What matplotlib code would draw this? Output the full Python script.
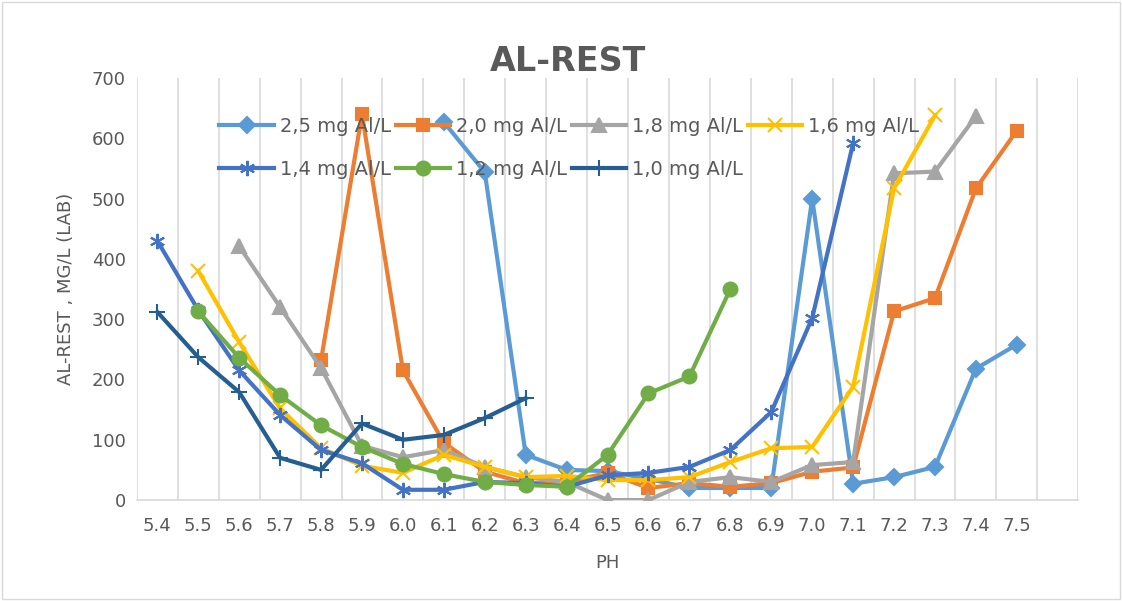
import numpy as np
import matplotlib
matplotlib.use("Agg")
import matplotlib.pyplot as plt

nan = np.nan

# pH categories (one extra empty slot at the end, like the source chart)
ph_labels = ["5.4", "5.5", "5.6", "5.7", "5.8", "5.9", "6.0", "6.1", "6.2", "6.3", "6.4",
             "6.5", "6.6", "6.7", "6.8", "6.9", "7.0", "7.1", "7.2", "7.3", "7.4", "7.5"]

al_25 = [nan, nan, nan, nan, nan, nan, nan, 627, 544, 75, 50, 48, 35, 20, 20, 20, 500, 27, 38, 55, 218, 258]
al_20 = [nan, nan, nan, nan, 232, 640, 215, 95, 47, 28, 30, 45, 20, 28, 22, 28, 47, 54, 313, 335, 517, 613]
al_18 = [nan, nan, 421, 320, 219, 90, 71, 83, 55, 38, 30, 0, 0, 30, 38, 30, 58, 63, 542, 545, 637, nan]
al_16 = [nan, 380, 262, 152, 86, 57, 45, 75, 55, 38, 40, 33, 33, 38, 63, 86, 88, 188, 517, 638, nan, nan]
al_14 = [430, 315, 215, 141, 83, 61, 17, 17, 30, 28, 22, 41, 45, 55, 83, 146, 302, 592, nan, nan, nan, nan]
al_12 = [nan, 313, 236, 174, 124, 88, 60, 43, 30, 25, 22, 75, 177, 205, 350, nan, nan, nan, nan, nan, nan, nan]
al_10 = [312, 237, 179, 70, 50, 127, 100, 108, 136, 169, nan, nan, nan, nan, nan, nan, nan, nan, nan, nan, nan, nan]

series = [
    ("2,5 mg Al/L", al_25, "#5B9BD5", "D", 8),
    ("2,0 mg Al/L", al_20, "#ED7D31", "s", 9),
    ("1,8 mg Al/L", al_18, "#A5A5A5", "^", 10),
    ("1,6 mg Al/L", al_16, "#FFC000", "x", 10),
    ("1,4 mg Al/L", al_14, "#4472C4", (6, 2, 0), 11),
    ("1,2 mg Al/L", al_12, "#70AD47", "o", 10),
    ("1,0 mg Al/L", al_10, "#255E91", "+", 11),
]

text_color = "#595959"

fig = plt.figure(figsize=(11.22, 6.01), dpi=100)
ax = fig.add_axes([0.122, 0.168, 0.839, 0.702])

x = np.arange(len(ph_labels))
handles = []
for label, vals, color, marker, ms in series:
    h, = ax.plot(x, vals, color=color, lw=3, marker=marker, markersize=ms,
                 markeredgewidth=1.5, markeredgecolor=color, markerfacecolor=color,
                 label=label, zorder=3)
    handles.append(h)

n_slots = len(ph_labels) + 1
ax.set_xlim(-0.5, n_slots - 0.5)
ax.set_ylim(0, 700)
ax.set_yticks(range(0, 701, 100))
ax.set_xticks(x)
ax.set_xticklabels(ph_labels)
for k in range(n_slots + 1):
    ax.axvline(k - 0.5, color="#D9D9D9", lw=1.2, zorder=1)

for side in ["top", "right", "left"]:
    ax.spines[side].set_visible(False)
ax.spines["bottom"].set_color("#D9D9D9")
ax.spines["bottom"].set_linewidth(1.2)
ax.tick_params(axis="both", length=0, colors=text_color, labelsize=13)
ax.tick_params(axis="x", pad=12)
ax.tick_params(axis="y", pad=8)

ax.set_xlabel("PH", fontsize=13, color=text_color, labelpad=14)
ax.set_ylabel("AL-REST , MG/L (LAB)", fontsize=13, color=text_color, labelpad=12)
fig.text(0.506, 0.897, "AL-REST", ha="center", va="center", fontsize=24,
         fontweight="bold", color=text_color)

# legend fills column-wise, so reorder to get the row-wise layout
order = [0, 4, 1, 5, 2, 6, 3]
leg = ax.legend([handles[i] for i in order], [series[i][0] for i in order],
                ncol=4, loc="upper left", bbox_to_anchor=(0.069, 0.95), frameon=False,
                fontsize=14, handlelength=2.8, columnspacing=0.25, handletextpad=0.3,
                labelspacing=1.25, labelcolor=text_color)

# chart border
fig.patches.append(plt.Rectangle((0.002, 0.003), 0.996, 0.994, transform=fig.transFigure,
                                 fill=False, edgecolor="#D9D9D9", lw=1))

fig.savefig("out.png", dpi=100)
